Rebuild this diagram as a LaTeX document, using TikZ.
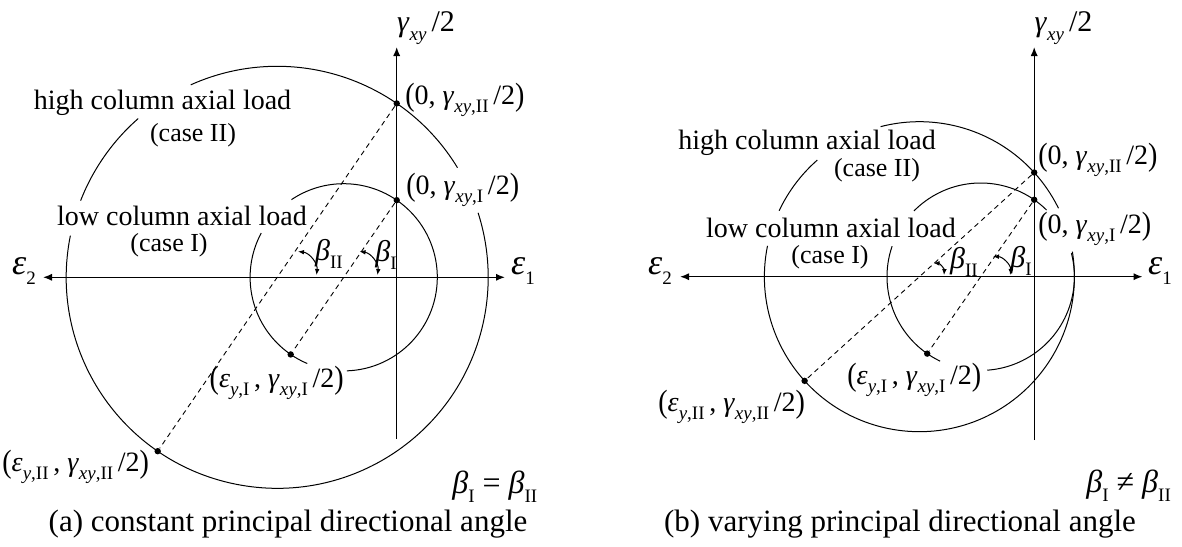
\documentclass[tikz,border=0pt]{standalone}
\usepackage{fontspec}
\setmainfont{Liberation Serif}
\usepackage{graphicx}
\usetikzlibrary{arrows.meta}

\newcommand{\sbs}[1]{\raisebox{-0.28em}{\fontsize{9.5}{10}\selectfont #1}}
\newcommand{\bpar}[1]{\raisebox{-0.04em}{\scalebox{1}[1.15]{#1}}}
\newcommand{\gxy}[1]{\textit{γ}\sbs{\textit{xy},#1}}
\newcommand{\ey}[1]{\textit{ε}\sbs{\textit{y},#1}}
\newcommand{\ptA}[1]{\bpar{(}0, \gxy{#1}\,/2\bpar{)}}
\newcommand{\ptB}[1]{\bpar{(}\ey{#1}\,, \gxy{#1}\,/2\bpar{)}}
\newcommand{\bsub}[1]{\textit{β}\sbs{#1}}

\tikzset{
  axisline/.style={line width=0.7pt},
  axarrow/.style={-{Latex[length=4.5pt,width=3.6pt]}},
  circ/.style={line width=0.5pt},
  diam/.style={line width=0.45pt, dash pattern=on 2.5pt off 2pt},
  dot/.style={circle, fill, inner sep=0pt, minimum size=3.2pt},
  lbl/.style={inner sep=0pt, font=\fontsize{14}{16}\selectfont},
  txt/.style={inner sep=0pt, font=\fontsize{14}{16}\selectfont},
  smalltxt/.style={inner sep=0pt, font=\fontsize{13}{15}\selectfont},
  captxt/.style={inner sep=0pt, font=\fontsize{15.5}{18}\selectfont},
  epslbl/.style={inner sep=0pt, font=\fontsize{18}{20}\selectfont},
  betalbl/.style={inner sep=0pt, font=\fontsize{15}{17}\selectfont},
  ang/.style={line width=0.5pt, {Latex[length=3pt,width=2.4pt]}-{Latex[length=3pt,width=2.4pt]}},
}

\begin{document}
\begin{tikzpicture}[x=0.5pt,y=0.5pt]
\useasboundingbox (0,0) rectangle (1182,-546);

% ================= panel (a) =================
\coordinate (OL) at (396.7,-277.3);
\coordinate (C2L) at (277.2,-277.3);
\coordinate (C1L) at (343.7,-277.3);
\coordinate (e2L) at (43,-277.3);
\coordinate (e1L) at (505,-277.3);
\coordinate (gbL) at (396.7,-439);
\coordinate (gtL) at (396.7,-47);

\draw[axisline, axarrow] (OL) -- (e2L);
\draw[axisline, axarrow] (OL) -- (e1L);
\draw[axisline, axarrow] (gbL) -- (gtL);

% big circle (case II)
\draw[circ] ([shift={(31.3:105.5pt)}]C2L) arc[start angle=31.3, end angle=114.2, radius=105.5pt];
\draw[circ] ([shift={(131.2:105.5pt)}]C2L) arc[start angle=131.2, end angle=158.7, radius=105.5pt];
\draw[circ] ([shift={(168.6:105.5pt)}]C2L) arc[start angle=168.6, end angle=377.8, radius=105.5pt];
% small circle (case I)
\draw[circ] ([shift={(151.8:46.8pt)}]C1L) arc[start angle=151.8, end angle=247.1, radius=46.8pt];
\draw[circ] ([shift={(271.9:46.8pt)}]C1L) arc[start angle=271.9, end angle=483.9, radius=46.8pt];

\node[dot] (PIIL) at ([shift={(55.5:105.5pt)}]C2L) {};
\node[dot] (QIIL) at ([shift={(235.5:105.5pt)}]C2L) {};
\node[dot] (PIL) at ([shift={(55.5:46.8pt)}]C1L) {};
\node[dot] (QIL) at ([shift={(235.5:46.8pt)}]C1L) {};
\draw[diam] (PIIL) -- (QIIL);
\draw[diam] (PIL) -- (QIL);

\coordinate (bIIaL) at (298,-251.5);
\coordinate (bIIbL) at (316.5,-275);
\coordinate (bIaL) at (359.5,-251.5);
\coordinate (bIbL) at (377.5,-275);
\draw[ang] (bIIaL) to[bend left=45] (bIIbL);
\draw[ang] (bIaL) to[bend left=45] (bIbL);
\node[betalbl] (tbIIL) at (329,-254) {\bsub{II}};
\node[betalbl] (tbIL) at (386,-255) {\bsub{I}};

\node[epslbl] (te2L) at (24,-271) {\textit{ε}\sbs{2}};
\node[epslbl] (te1L) at (523,-271) {\textit{ε}\sbs{1}};
\node[lbl, font=\fontsize{15}{17}\selectfont] (tgL) at (426,-28) {\textit{γ}\sbs{\textit{xy}}\,/2};

\node[lbl, anchor=west] (lAL) at (405,-100) {\ptA{II}};
\node[lbl, anchor=west] (lBL) at (406,-190) {\ptA{I}};
\node[lbl, anchor=east] (lCL) at (344,-383) {\ptB{I}};
\node[lbl, anchor=west] (lDL) at (2,-467) {\ptB{II}};

\node[txt] (hiL) at (162.5,-103) {high column axial load};
\node[smalltxt] (c2L) at (193,-135) {(case II)};
\node[txt] (loL) at (182,-216) {low column axial load};
\node[smalltxt] (c1L) at (169,-245) {(case I)};

\node[betalbl, anchor=west, font=\fontsize{16}{18}\selectfont] (eqL) at (452,-487) {\bsub{I} = \bsub{II}};
\node[captxt] (capL) at (288,-524) {(a) constant principal directional angle};

% ================= panel (b) =================
\coordinate (OR) at (1034.2,-276.7);
\coordinate (C2R) at (919.4,-276.7);
\coordinate (C1R) at (980.7,-276.7);
\coordinate (e2R) at (680,-276.7);
\coordinate (e1R) at (1142.5,-276.7);
\coordinate (gbR) at (1034.2,-440);
\coordinate (gtR) at (1034.2,-47);

\draw[axisline, axarrow] (OR) -- (e2R);
\draw[axisline, axarrow] (OR) -- (e1R);
\draw[axisline, axarrow] (gbR) -- (gtR);

\draw[circ] ([shift={(26.2:77.5pt)}]C2R) arc[start angle=26.2, end angle=104.5, radius=77.5pt];
\draw[circ] ([shift={(131.2:77.5pt)}]C2R) arc[start angle=131.2, end angle=154.8, radius=77.5pt];
\draw[circ] ([shift={(168.5:77.5pt)}]C2R) arc[start angle=168.5, end angle=369.3, radius=77.5pt];
\draw[circ] ([shift={(45.3:46.85pt)}]C1R) arc[start angle=45.3, end angle=135.4, radius=46.85pt];
\draw[circ] ([shift={(161:46.85pt)}]C1R) arc[start angle=161, end angle=244.3, radius=46.85pt];
\draw[circ] ([shift={(274:46.85pt)}]C1R) arc[start angle=274, end angle=374.5, radius=46.85pt];

\node[dot] (PIIR) at ([shift={(42.22:77.5pt)}]C2R) {};
\node[dot] (QIIR) at ([shift={(222.22:77.5pt)}]C2R) {};
\node[dot] (PIR) at ([shift={(55.18:46.85pt)}]C1R) {};
\node[dot] (QIR) at ([shift={(235.18:46.85pt)}]C1R) {};
\draw[diam] (PIIR) -- (QIIR);
\draw[diam] (PIR) -- (QIR);

\coordinate (bIIaR) at (933.5,-263);
\coordinate (bIIbR) at (944,-275);
\coordinate (bIaR) at (993,-256.5);
\coordinate (bIbR) at (1010.7,-275);
\draw[ang] (bIIaR) to[bend left=45] (bIIbR);
\draw[ang] (bIaR) to[bend left=45] (bIbR);
\node[betalbl] (tbIIR) at (964,-262) {\bsub{II}};
\node[betalbl] (tbIR) at (1021,-261) {\bsub{I}};

\node[epslbl] (te2R) at (660,-271) {\textit{ε}\sbs{2}};
\node[epslbl] (te1R) at (1160,-271) {\textit{ε}\sbs{1}};
\node[lbl, font=\fontsize{15}{17}\selectfont] (tgR) at (1063.5,-28) {\textit{γ}\sbs{\textit{xy}}\,/2};

\node[lbl, anchor=west] (lAR) at (1038,-160) {\ptA{II}};
\node[lbl, anchor=west] (lBR) at (1038,-229) {\ptA{I}};
\node[lbl, anchor=west] (lCR) at (847,-380) {\ptB{I}};
\node[lbl, anchor=west] (lDR) at (658,-407) {\ptB{II}};

\node[txt] (hiR) at (807,-143) {high column axial load};
\node[smalltxt] (c2R) at (877,-170.5) {(case II)};
\node[txt] (loR) at (831,-228) {low column axial load};
\node[smalltxt] (c1R) at (830,-257) {(case I)};

\node[betalbl, anchor=west, font=\fontsize{16}{18}\selectfont] (eqR) at (1086,-486) {\bsub{I} ≠ \bsub{II}};
\node[captxt] (capR) at (900,-524) {(b) varying principal directional angle};
\end{tikzpicture}
\end{document}
